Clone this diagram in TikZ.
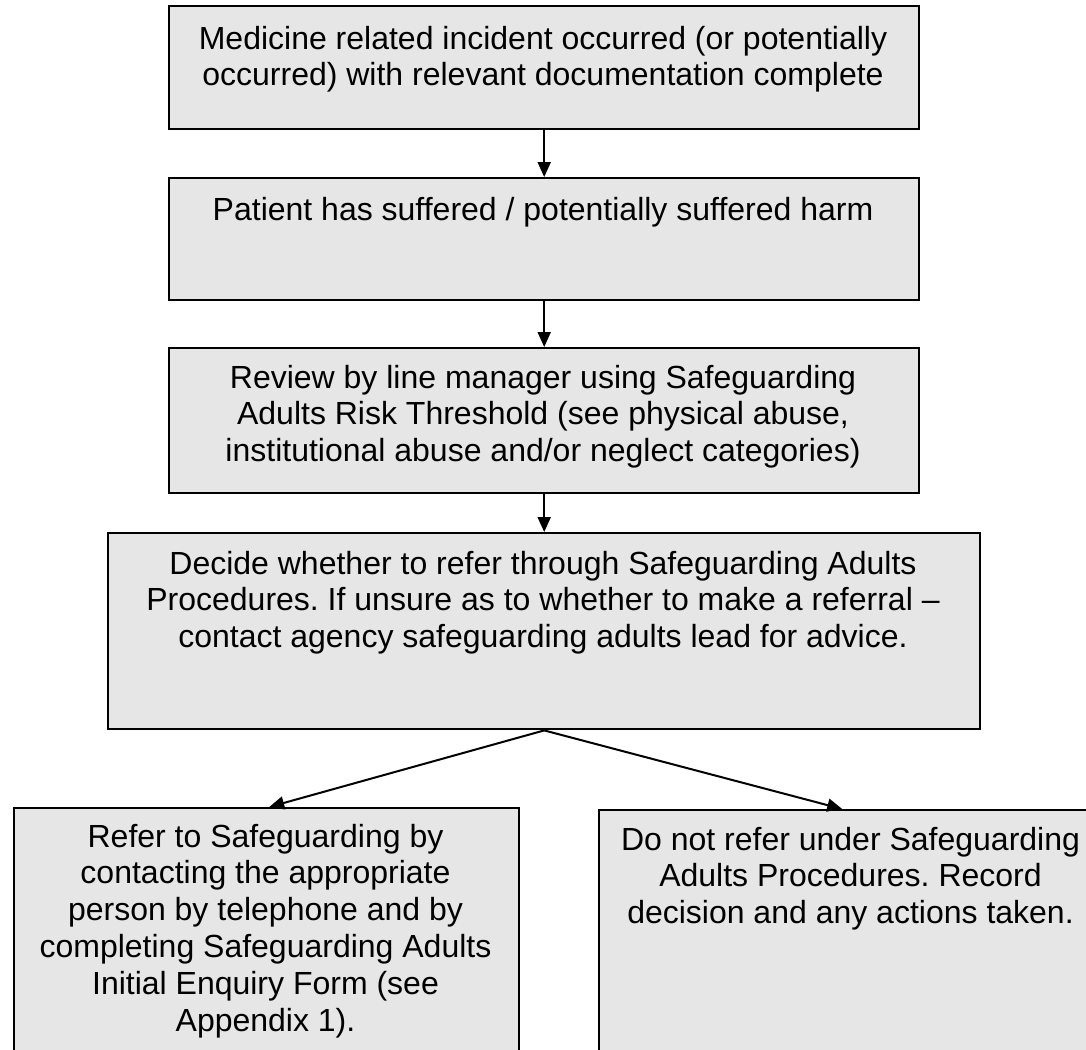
\documentclass[tikz,border=0pt]{standalone}
\usepackage{fontspec}
\setmainfont{Liberation Sans}
\usetikzlibrary{arrows.meta}
\definecolor{boxgray}{RGB}{230,230,230}
\begin{document}
\frenchspacing
\begin{tikzpicture}[x=1pt,y=-1pt,
  box/.style={draw=black, line width=2.4pt, fill=boxgray, rectangle, inner sep=0pt, anchor=north west},
  txt/.style={anchor=base, inner sep=0pt, font=\fontsize{32}{36.8}\selectfont},
  arr/.style={-{Triangle[length=15pt,width=13pt]}, line width=2pt}]
\useasboundingbox (0,0) rectangle (1086,1049);
\clip (0,0) rectangle (1086,1049);
\fill[white] (0,0) rectangle (1086,1049);

\node[box, minimum width=750pt, minimum height=123pt] (b1) at (168,5) {};
\node[box, minimum width=750pt, minimum height=122pt] (b2) at (168,177) {};
\node[box, minimum width=750pt, minimum height=145pt] (b3) at (168,347) {};
\node[box, minimum width=872pt, minimum height=196pt] (b4) at (107,532) {};
\node[box, minimum width=505pt, minimum height=280pt] (b5) at (13,807) {};
\node[box, minimum width=505pt, minimum height=280pt] (b6) at (598,809) {};

\node[txt] (t1) at (543,49) {\begin{tabular}[t]{@{}c@{}}Medicine related incident occurred (or potentially\\occurred) with relevant documentation complete\end{tabular}};
\node[txt] (t2) at (543,220) {Patient has suffered / potentially suffered harm};
\node[txt] (t3) at (543,388) {\begin{tabular}[t]{@{}c@{}}Review by line manager using Safeguarding\\Adults Risk Threshold (see physical abuse,\\institutional abuse and/or neglect categories)\end{tabular}};
\node[txt] (t4) at (543,574) {\begin{tabular}[t]{@{}c@{}}Decide whether to refer through Safeguarding Adults\\Procedures. If unsure as to whether to make a referral --\\contact agency safeguarding adults lead for advice.\end{tabular}};
\node[txt] (t5) at (265.5,847) {\begin{tabular}[t]{@{}c@{}}Refer to Safeguarding by\\contacting the appropriate\\person by telephone and by\\completing Safeguarding Adults\\Initial Enquiry Form (see\\Appendix 1).\end{tabular}};
\node[txt] (t6) at (850.5,850) {\begin{tabular}[t]{@{}c@{}}Do not refer under Safeguarding\\Adults Procedures. Record\\decision and any actions taken.\end{tabular}};

\draw[arr] (b1.south) -- (b2.north);
\draw[arr] (b2.south) -- (b3.north);
\draw[arr] (b3.south) -- (b4.north);
\draw[arr] (b4.south) -- ([xshift=2.5pt]b5.north);
\draw[arr] (b4.south) -- ([xshift=-9.5pt]b6.north);
\end{tikzpicture}
\end{document}
